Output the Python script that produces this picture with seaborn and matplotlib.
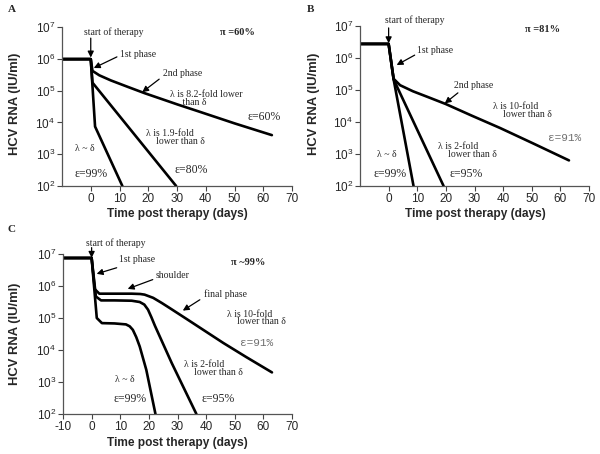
import numpy as np
import pandas as pd
import matplotlib
matplotlib.use("Agg")
import matplotlib.pyplot as plt
import seaborn as sns

# ---------------- data (days, log10 HCV RNA IU/ml) ----------------
# Panel A  (pi = 60%)
A_e60_days = [-10, 0, 0.6, 3, 7, 12.8, 18.7, 24.5, 30.3, 37.7, 50, 63]
A_e60_log = [5.99, 5.99, 5.62, 5.48, 5.32, 5.12, 4.92, 4.74, 4.56, 4.34, 3.97, 3.60]
A_e80_days = [-10, 0, 0.6, 29.7]
A_e80_log = [5.99, 5.99, 5.25, 2.0]
A_e99_days = [-10, 0, 1.5, 11.0]
A_e99_log = [5.99, 5.99, 3.87, 2.0]

# Panel B  (pi = 81%)
B_e91_days = [-10, 0, 1.75, 4, 8.5, 14, 20, 29, 39, 50.5, 63]
B_e91_log = [6.44, 6.44, 5.35, 5.15, 4.96, 4.77, 4.56, 4.2, 3.81, 3.33, 2.8]
B_e95_days = [-10, 0, 1.75, 19.2]
B_e95_log = [6.44, 6.44, 5.33, 2.0]
B_e99_days = [-10, 0, 1.75, 8.7]
B_e99_log = [6.44, 6.44, 5.33, 2.0]

# Panel C  (pi ~ 99%)
C_e91_days = [-10, 0, 1.1, 2.7, 8, 14, 17, 18.5, 21.5, 24.5, 27.3, 33, 39.5, 46, 54, 63]
C_e91_log = [6.875, 6.875, 5.9, 5.76, 5.76, 5.76, 5.75, 5.73, 5.63, 5.47, 5.31, 4.98, 4.6, 4.22, 3.78, 3.30]
C_e95_days = [-10, 0, 1.5, 3.3, 8, 14, 16.8, 18.4, 19.7, 20.9, 22.1, 28, 36.6]
C_e95_log = [6.875, 6.875, 5.67, 5.55, 5.55, 5.54, 5.5, 5.42, 5.26, 5.02, 4.76, 3.59, 2.0]
C_e99_days = [-10, 0, 1.8, 3.6, 8, 12, 13.3, 14.4, 15.6, 16.8, 19.1, 22.3]
C_e99_log = [6.875, 6.875, 5.0, 4.84, 4.83, 4.8, 4.74, 4.63, 4.4, 4.11, 3.38, 2.0]

y_exponents = [2, 3, 4, 5, 6, 7]
x_ticks_AB = [0, 10, 20, 30, 40, 50, 60, 70]
x_ticks_C = [-10, 0, 10, 20, 30, 40, 50, 60, 70]

sns.set_style("ticks")
plt.rcParams["font.family"] = ["Liberation Sans", "DejaVu Sans"]
plt.rcParams["mathtext.default"] = "regular"

W, H = 600, 454
fig = plt.figure(figsize=(6.0, 4.54), dpi=100)


def frac(px, py):
    return px / W, 1 - py / H


def make_ax(left, right, top, bottom):
    return fig.add_axes([left / W, 1 - bottom / H, (right - left) / W, (bottom - top) / H])


def build(curves):
    rows = []
    for name, days, logs in curves:
        for d, l in zip(days, logs):
            rows.append({"curve": name, "day": d, "rna": 10 ** l})
    return pd.DataFrame(rows)


SERIF = "Liberation Serif"


def style(ax, xticks):
    ax.set_yscale("log")
    ax.set_xlim(-10, 70)
    ax.set_ylim(1e2, 1e7)
    ax.set_yticks([10.0 ** e for e in y_exponents])
    ax.set_yticklabels([r"$10^{%d}$" % e for e in y_exponents])
    ax.yaxis.set_minor_locator(matplotlib.ticker.NullLocator())
    ax.set_xticks(xticks)
    ax.set_xticklabels([str(t) for t in xticks])
    ax.tick_params(labelsize=8.5, length=3.5, width=0.8, color="#444444", pad=1.5)
    for s in ["top", "right"]:
        ax.spines[s].set_visible(False)
    for s in ["left", "bottom"]:
        ax.spines[s].set_color("#555555")
        ax.spines[s].set_linewidth(0.9)
    ax.set_xlabel("")
    ax.set_ylabel("")


def txt(ax, x, logy, s, size=7, ha="center", **kw):
    ax.text(x, 10 ** logy, s, fontsize=size, ha=ha, va="center",
            family=kw.pop("family", SERIF), clip_on=False, **kw)


def two_line(ax, x, logy, s):
    ax.text(x, 10 ** logy, s, fontsize=7, ha="left", va="center", family=SERIF,
            linespacing=0.82, clip_on=False)


def arrow(ax, x0, l0, x1, l1):
    ax.annotate("", xy=(x1, 10 ** l1), xytext=(x0, 10 ** l0),
                arrowprops=dict(arrowstyle="-|>", color="black", lw=0.9,
                                mutation_scale=9, shrinkA=0, shrinkB=0),
                annotation_clip=False)


def eps_mono(ax, x, logy, s):
    ax.text(x, 10 ** logy, s, fontsize=8, ha="center", va="center",
            family="Liberation Mono", color="#707070", clip_on=False)


def draw(ax, df):
    sns.lineplot(data=df, x="day", y="rna", units="curve", estimator=None, sort=False,
                 color="black", lw=1.9, ax=ax)


# ---------------- Panel A ----------------
axA = make_ax(62, 292, 27, 186)
draw(axA, build([("e60", A_e60_days, A_e60_log), ("e80", A_e80_days, A_e80_log),
                 ("e99", A_e99_days, A_e99_log)]))
style(axA, x_ticks_AB)
txt(axA, 8.05, 6.84, "start of therapy")
arrow(axA, 0, 6.65, 0, 6.04)
txt(axA, 16.6, 6.15, "1st phase")
arrow(axA, 9.1, 6.06, 1.05, 5.71)
txt(axA, 31.9, 5.55, "2nd phase")
arrow(axA, 23.8, 5.36, 17.9, 4.95)
two_line(axA, 27.7, 4.74, "λ is 8.2-fold lower\n     than δ")
txt(axA, 60.2, 4.18, "ε=60%", size=8.5)
two_line(axA, 19.1, 3.53, "λ is 1.9-fold\n    lower than δ")
txt(axA, 34.9, 2.50, "ε=80%", size=8.5)
txt(axA, -1.9, 3.19, "λ ~ δ")
txt(axA, 0.2, 2.38, "ε=99%", size=8.5)
txt(axA, 50.9, 6.84, "π =60%", size=7.5, weight="bold")

# ---------------- Panel B ----------------
axB = make_ax(360, 589, 26, 186)
draw(axB, build([("e91", B_e91_days, B_e91_log), ("e95", B_e95_days, B_e95_log),
                 ("e99", B_e99_days, B_e99_log)]))
style(axB, x_ticks_AB)
txt(axB, 9.1, 7.19, "start of therapy")
arrow(axB, 0, 6.94, 0, 6.46)
txt(axB, 16.3, 6.22, "1st phase")
arrow(axB, 9.1, 6.09, 2.8, 5.78)
txt(axB, 29.6, 5.13, "2nd phase")
arrow(axB, 24.2, 4.91, 19.6, 4.58)
two_line(axB, 36.4, 4.36, "λ is 10-fold\n    lower than δ")
eps_mono(axB, 61.6, 3.5, "ε=91%")
two_line(axB, 17.2, 3.11, "λ is 2-fold\n    lower than δ")
txt(axB, 27.1, 2.375, "ε=95%", size=8.5)
txt(axB, -0.5, 3.0, "λ ~ δ")
txt(axB, 0.35, 2.375, "ε=99%", size=8.5)
txt(axB, 53.9, 6.875, "π =81%", size=7.5, weight="bold")

# ---------------- Panel C ----------------
axC = make_ax(63, 292, 254, 414)
draw(axC, build([("e91", C_e91_days, C_e91_log), ("e95", C_e95_days, C_e95_log),
                 ("e99", C_e99_days, C_e99_log)]))
style(axC, x_ticks_C)
txt(axC, 8.6, 7.35, "start of therapy")
arrow(axC, 0, 7.2, 0, 6.88)
txt(axC, 15.75, 6.82, "1st phase")
arrow(axC, 8.75, 6.57, 1.75, 6.38)
txt(axC, 28.35, 6.32, "shoulder")
arrow(axC, 21.35, 6.2, 12.6, 5.91)
txt(axC, 46.9, 5.73, "final phase")
arrow(axC, 37.8, 5.57, 31.85, 5.23)
two_line(axC, 47.25, 5.0, "λ is 10-fold\n    lower than δ")
eps_mono(axC, 57.6, 4.23, "ε=91%")
two_line(axC, 32.2, 3.42, "λ is 2-fold\n    lower than δ")
txt(axC, 44.1, 2.48, "ε=95%", size=8.5)
txt(axC, 11.7, 3.07, "λ ~ δ")
txt(axC, 13.3, 2.48, "ε=99%", size=8.5)
txt(axC, 54.6, 6.73, "π ~99%", size=7.5, weight="bold")

# ---------------- labels ----------------
ylab = "HCV RNA (IU/ml)"
xlab = "Time post therapy (days)"
for (px, py) in [(15, 104), (314, 104), (15, 334)]:
    fig.text(*frac(px, py), ylab, rotation=90, ha="center", va="center",
             fontsize=9.4, weight="bold")
for (px, py) in [(177, 214), (475, 214), (177, 443)]:
    fig.text(*frac(px, py), xlab, ha="center", va="center", fontsize=8.6, weight="bold")
for (px, py, s) in [(12, 9, "A"), (310, 9, "B"), (12, 229, "C")]:
    fig.text(*frac(px, py), s, ha="center", va="center", fontsize=8,
             weight="bold", family=SERIF)

fig.savefig("out.png", dpi=100)
